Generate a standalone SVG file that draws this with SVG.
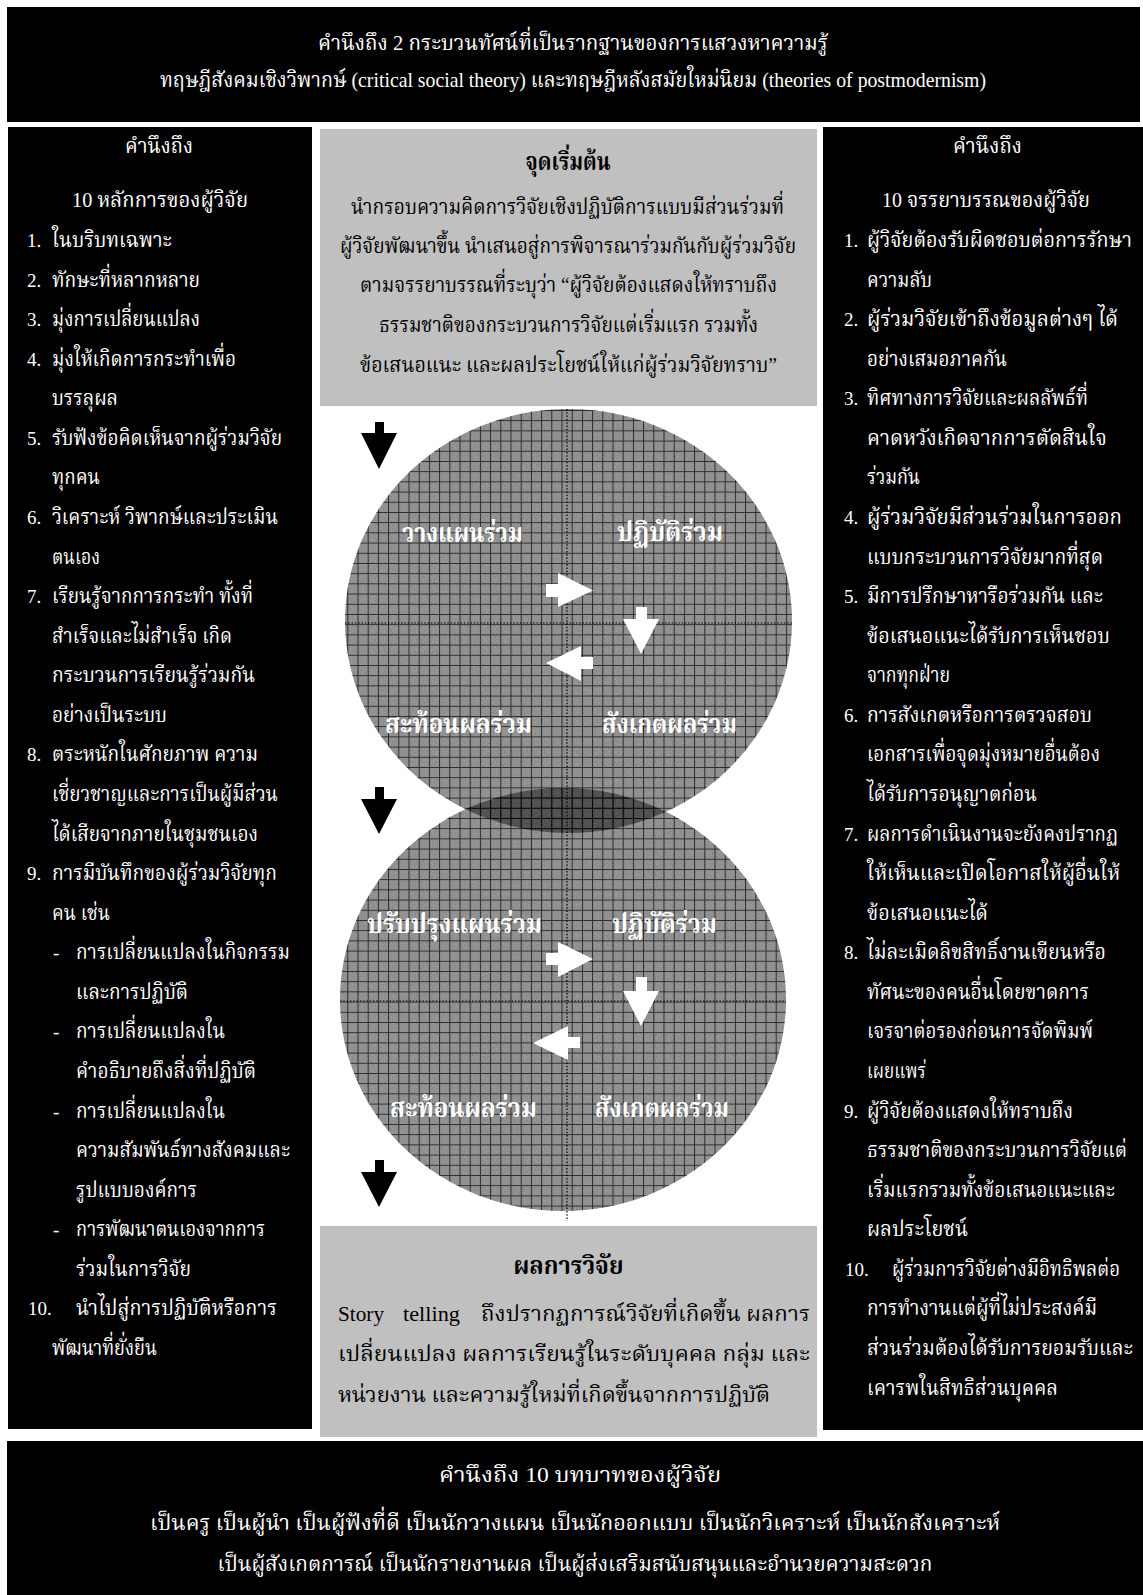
<svg xmlns="http://www.w3.org/2000/svg" width="1143" height="1595" viewBox="0 0 1143 1595">
<style>
text{font-family:"Liberation Serif","Noto Serif Thai","Noto Sans Thai",serif}
.w{fill:#fff;font-size:22px}
.k{fill:#000;font-size:22px}
.n{font-size:19px}
.c{text-anchor:middle}
.b{font-weight:bold;font-size:25px}
.lab{fill:#fff;font-size:26px;font-weight:bold}
.dot{stroke:#000;stroke-width:1.2;stroke-dasharray:1.5 1.8;fill:none}
</style>
<defs>
<pattern id="grid" width="10.2" height="10.2" patternUnits="userSpaceOnUse" x="0.5" y="2">
<path d="M0 0.5H10.2M0.5 0V10.2" stroke="#000" stroke-width="1" stroke-opacity="0.7" fill="none"/>
</pattern>
<filter id="noise" x="0" y="0" width="100%" height="100%">
<feTurbulence type="fractalNoise" baseFrequency="0.9" numOctaves="2" seed="4" result="t"/>
<feColorMatrix in="t" type="matrix" values="0 0 0 0 0  0 0 0 0 0  0 0 0 0 0  0 0 0 0.22 0" result="n"/>
<feComposite in="n" in2="SourceGraphic" operator="in"/>
</filter>
</defs>
<rect width="1143" height="1595" fill="#fff"/>

<g id="top-box">
<rect x="7" y="7" width="1133" height="115" fill="#000"/>
<text class="w c" x="573" y="50" textLength="510" lengthAdjust="spacingAndGlyphs">คำนึงถึง 2 กระบวนทัศน์ที่เป็นรากฐานของการแสวงหาความรู้</text>
<text class="w c" x="573" y="87" textLength="826" lengthAdjust="spacingAndGlyphs">ทฤษฎีสังคมเชิงวิพากษ์ (critical social theory) และทฤษฎีหลังสมัยใหม่นิยม (theories of postmodernism)</text>
</g>

<g id="left-column">
<rect x="8" y="127" width="304" height="1302" fill="#000"/>
<text class="w" x="125" y="153" textLength="68" lengthAdjust="spacingAndGlyphs">คำนึงถึง</text>
<text class="w" x="72" y="207" textLength="176" lengthAdjust="spacingAndGlyphs">10 หลักการของผู้วิจัย</text>
<g class="w n">
<text x="27" y="247">1.</text><text x="27" y="286.6">2.</text><text x="27" y="326.1">3.</text><text x="27" y="365.7">4.</text>
<text x="27" y="444.9">5.</text><text x="27" y="524">6.</text><text x="27" y="603.1">7.</text><text x="27" y="761.4">8.</text>
<text x="27" y="880.1">9.</text><text x="28" y="1315.4">10.</text>
<text x="53" y="959.3">-</text><text x="53" y="1038.4">-</text><text x="53" y="1117.5">-</text><text x="53" y="1236.3">-</text>
</g>
<g class="w">
<text x="52" y="247" textLength="120" lengthAdjust="spacingAndGlyphs">ในบริบทเฉพาะ</text>
<text x="52" y="286.6" textLength="148" lengthAdjust="spacingAndGlyphs">ทักษะที่หลากหลาย</text>
<text x="52" y="326.1" textLength="148" lengthAdjust="spacingAndGlyphs">มุ่งการเปลี่ยนแปลง</text>
<text x="52" y="365.7" textLength="184" lengthAdjust="spacingAndGlyphs">มุ่งให้เกิดการกระทำเพื่อ</text>
<text x="52" y="405.3" textLength="66" lengthAdjust="spacingAndGlyphs">บรรลุผล</text>
<text x="52" y="444.9" textLength="230" lengthAdjust="spacingAndGlyphs">รับฟังข้อคิดเห็นจากผู้ร่วมวิจัย</text>
<text x="52" y="484.4" textLength="48" lengthAdjust="spacingAndGlyphs">ทุกคน</text>
<text x="52" y="524" textLength="226" lengthAdjust="spacingAndGlyphs">วิเคราะห์ วิพากษ์และประเมิน</text>
<text x="52" y="563.6" textLength="48" lengthAdjust="spacingAndGlyphs">ตนเอง</text>
<text x="52" y="603.1" textLength="201" lengthAdjust="spacingAndGlyphs">เรียนรู้จากการกระทำ ทั้งที่</text>
<text x="52" y="642.7" textLength="180" lengthAdjust="spacingAndGlyphs">สำเร็จและไม่สำเร็จ เกิด</text>
<text x="52" y="682.3" textLength="203" lengthAdjust="spacingAndGlyphs">กระบวนการเรียนรู้ร่วมกัน</text>
<text x="52" y="721.8" textLength="115" lengthAdjust="spacingAndGlyphs">อย่างเป็นระบบ</text>
<text x="52" y="761.4" textLength="206" lengthAdjust="spacingAndGlyphs">ตระหนักในศักยภาพ ความ</text>
<text x="52" y="801" textLength="226" lengthAdjust="spacingAndGlyphs">เชี่ยวชาญและการเป็นผู้มีส่วน</text>
<text x="52" y="840.6" textLength="206" lengthAdjust="spacingAndGlyphs">ได้เสียจากภายในชุมชนเอง</text>
<text x="52" y="880.1" textLength="225" lengthAdjust="spacingAndGlyphs">การมีบันทึกของผู้ร่วมวิจัยทุก</text>
<text x="52" y="919.7" textLength="58" lengthAdjust="spacingAndGlyphs">คน เช่น</text>
<text x="76" y="959.3" textLength="214" lengthAdjust="spacingAndGlyphs">การเปลี่ยนแปลงในกิจกรรม</text>
<text x="76" y="998.8" textLength="112" lengthAdjust="spacingAndGlyphs">และการปฏิบัติ</text>
<text x="76" y="1038.4" textLength="149" lengthAdjust="spacingAndGlyphs">การเปลี่ยนแปลงใน</text>
<text x="76" y="1078" textLength="180" lengthAdjust="spacingAndGlyphs">คำอธิบายถึงสิ่งที่ปฏิบัติ</text>
<text x="76" y="1117.5" textLength="149" lengthAdjust="spacingAndGlyphs">การเปลี่ยนแปลงใน</text>
<text x="76" y="1157.1" textLength="214" lengthAdjust="spacingAndGlyphs">ความสัมพันธ์ทางสังคมและ</text>
<text x="76" y="1196.7" textLength="121" lengthAdjust="spacingAndGlyphs">รูปแบบองค์การ</text>
<text x="76" y="1236.3" textLength="189" lengthAdjust="spacingAndGlyphs">การพัฒนาตนเองจากการ</text>
<text x="76" y="1275.8" textLength="115" lengthAdjust="spacingAndGlyphs">ร่วมในการวิจัย</text>
<text x="76" y="1315.4" textLength="201" lengthAdjust="spacingAndGlyphs">นำไปสู่การปฏิบัติหรือการ</text>
<text x="52" y="1355" textLength="105" lengthAdjust="spacingAndGlyphs">พัฒนาที่ยั่งยืน</text>
</g>
</g>

<g id="start-box">
<rect x="320" y="129" width="497" height="277" fill="#c0c0c0"/>
<text class="k c b" x="568" y="170" textLength="85" lengthAdjust="spacingAndGlyphs">จุดเริ่มต้น</text>
<text class="k" x="351" y="214" textLength="433" lengthAdjust="spacingAndGlyphs">นำกรอบความคิดการวิจัยเชิงปฏิบัติการแบบมีส่วนร่วมที่</text>
<text class="k" x="340" y="253" textLength="456" lengthAdjust="spacingAndGlyphs">ผู้วิจัยพัฒนาขึ้น นำเสนอสู่การพิจารณาร่วมกันกับผู้ร่วมวิจัย</text>
<text class="k" x="360" y="292" textLength="417" lengthAdjust="spacingAndGlyphs">ตามจรรยาบรรณที่ระบุว่า “ผู้วิจัยต้องแสดงให้ทราบถึง</text>
<text class="k" x="379" y="332" textLength="379" lengthAdjust="spacingAndGlyphs">ธรรมชาติของกระบวนการวิจัยแต่เริ่มแรก รวมทั้ง</text>
<text class="k" x="360" y="372" textLength="417" lengthAdjust="spacingAndGlyphs">ข้อเสนอแนะ และผลประโยชน์ให้แก่ผู้ร่วมวิจัยทราบ”</text>
</g>

<g id="cycle-1">
<ellipse cx="568.5" cy="621" rx="223.5" ry="212" fill="#000" fill-opacity="0.36"/>
<ellipse cx="568.5" cy="621" rx="223.5" ry="212" fill="#000" filter="url(#noise)"/>
<ellipse cx="568.5" cy="621" rx="223.5" ry="212" fill="url(#grid)"/>
</g>
<g id="cycle-2">
<ellipse cx="563" cy="999.5" rx="223" ry="211.5" fill="#000" fill-opacity="0.36"/>
<ellipse cx="563" cy="999.5" rx="223" ry="211.5" fill="#000" filter="url(#noise)"/>
<ellipse cx="563" cy="999.5" rx="223" ry="211.5" fill="url(#grid)"/>
</g>
<g id="axes">
<line class="dot" x1="567" y1="409" x2="567" y2="1221"/>
<line class="dot" x1="345" y1="623" x2="792" y2="623"/>
<line class="dot" x1="340" y1="1001" x2="786" y2="1001"/>
</g>
<g id="cycle-1-labels">
<text class="lab" x="402" y="542" textLength="121" lengthAdjust="spacingAndGlyphs">วางแผนร่วม</text>
<text class="lab" x="617" y="541" textLength="106" lengthAdjust="spacingAndGlyphs">ปฏิบัติร่วม</text>
<text class="lab" x="385" y="733" textLength="147" lengthAdjust="spacingAndGlyphs">สะท้อนผลร่วม</text>
<text class="lab" x="602" y="733" textLength="135" lengthAdjust="spacingAndGlyphs">สังเกตผลร่วม</text>
</g>
<g id="cycle-2-labels">
<text class="lab" x="367" y="933" textLength="175" lengthAdjust="spacingAndGlyphs">ปรับปรุงแผนร่วม</text>
<text class="lab" x="612" y="933" textLength="105" lengthAdjust="spacingAndGlyphs">ปฏิบัติร่วม</text>
<text class="lab" x="390" y="1117" textLength="147" lengthAdjust="spacingAndGlyphs">สะท้อนผลร่วม</text>
<text class="lab" x="595" y="1117" textLength="134" lengthAdjust="spacingAndGlyphs">สังเกตผลร่วม</text>
</g>

<g id="connectors">
<g fill="#fff">
<polygon points="546,584 558,584 558,573 593,590.5 558,607 558,597 546,597"/>
<polygon points="636,607 647,607 647,619 659,619 641,654 623,619 636,619"/>
<polygon points="546,663 581,646 581,657 593,657 593,669 581,669 581,681"/>
<polygon points="546,953 558,953 558,942 593,959 558,977 558,965 546,965"/>
<polygon points="636,977 647,977 647,991 659,991 641,1026 623,991 636,991"/>
<polygon points="533,1043 568,1026 568,1037 580,1037 580,1048 568,1048 568,1060"/>
</g>
<g fill="#000">
<polygon points="375,422 384,422 384,433 397,433 379,469 361,433 375,433"/>
<polygon points="375,787 384,787 384,799 397,799 379,834 361,799 375,799"/>
<polygon points="375,1160 384,1160 384,1172 397,1172 379,1207 361,1172 375,1172"/>
</g>
</g>

<g id="result-box">
<rect x="320" y="1226" width="497" height="211" fill="#c0c0c0"/>
<text class="k c b" x="568.5" y="1274" textLength="110" lengthAdjust="spacingAndGlyphs">ผลการวิจัย</text>
<text class="k" x="338" y="1321" textLength="46" lengthAdjust="spacingAndGlyphs">Story</text>
<text class="k" x="403" y="1321" textLength="57" lengthAdjust="spacingAndGlyphs">telling</text>
<text class="k" x="481" y="1321" textLength="329" lengthAdjust="spacingAndGlyphs">ถึงปรากฏการณ์วิจัยที่เกิดขึ้น ผลการ</text>
<text class="k" x="338" y="1361" textLength="472" lengthAdjust="spacingAndGlyphs">เปลี่ยนแปลง ผลการเรียนรู้ในระดับบุคคล กลุ่ม และ</text>
<text class="k" x="338" y="1402" textLength="432" lengthAdjust="spacingAndGlyphs">หน่วยงาน และความรู้ใหม่ที่เกิดขึ้นจากการปฏิบัติ</text>
</g>

<g id="right-column">
<rect x="823" y="127" width="320" height="1303" fill="#000"/>
<text class="w" x="953" y="153" textLength="69" lengthAdjust="spacingAndGlyphs">คำนึงถึง</text>
<text class="w" x="882" y="207" textLength="208" lengthAdjust="spacingAndGlyphs">10 จรรยาบรรณของผู้วิจัย</text>
<g class="w n">
<text x="844" y="247">1.</text><text x="844" y="326.1">2.</text><text x="844" y="405.3">3.</text><text x="844" y="524">4.</text>
<text x="844" y="603.1">5.</text><text x="844" y="721.8">6.</text><text x="844" y="840.6">7.</text><text x="844" y="959.3">8.</text>
<text x="844" y="1117.5">9.</text><text x="845" y="1275.8">10.</text>
</g>
<g class="w">
<text x="867" y="247" textLength="265" lengthAdjust="spacingAndGlyphs">ผู้วิจัยต้องรับผิดชอบต่อการรักษา</text>
<text x="867" y="286.6" textLength="65" lengthAdjust="spacingAndGlyphs">ความลับ</text>
<text x="867" y="326.1" textLength="251" lengthAdjust="spacingAndGlyphs">ผู้ร่วมวิจัยเข้าถึงข้อมูลต่างๆ  ได้</text>
<text x="867" y="365.7" textLength="140" lengthAdjust="spacingAndGlyphs">อย่างเสมอภาคกัน</text>
<text x="867" y="405.3" textLength="221" lengthAdjust="spacingAndGlyphs">ทิศทางการวิจัยและผลลัพธ์ที่</text>
<text x="867" y="444.9" textLength="240" lengthAdjust="spacingAndGlyphs">คาดหวังเกิดจากการตัดสินใจ</text>
<text x="867" y="484.4" textLength="53" lengthAdjust="spacingAndGlyphs">ร่วมกัน</text>
<text x="867" y="524" textLength="255" lengthAdjust="spacingAndGlyphs">ผู้ร่วมวิจัยมีส่วนร่วมในการออก</text>
<text x="867" y="563.6" textLength="236" lengthAdjust="spacingAndGlyphs">แบบกระบวนการวิจัยมากที่สุด</text>
<text x="867" y="603.1" textLength="236" lengthAdjust="spacingAndGlyphs">มีการปรึกษาหารือร่วมกัน และ</text>
<text x="867" y="642.7" textLength="243" lengthAdjust="spacingAndGlyphs">ข้อเสนอแนะได้รับการเห็นชอบ</text>
<text x="867" y="682.3" textLength="83" lengthAdjust="spacingAndGlyphs">จากทุกฝ่าย</text>
<text x="867" y="721.8" textLength="225" lengthAdjust="spacingAndGlyphs">การสังเกตหรือการตรวจสอบ</text>
<text x="867" y="761.4" textLength="233" lengthAdjust="spacingAndGlyphs">เอกสารเพื่อจุดมุ่งหมายอื่นต้อง</text>
<text x="867" y="801" textLength="170" lengthAdjust="spacingAndGlyphs">ได้รับการอนุญาตก่อน</text>
<text x="867" y="840.6" textLength="251" lengthAdjust="spacingAndGlyphs">ผลการดำเนินงานจะยังคงปรากฏ</text>
<text x="867" y="880.1" textLength="253" lengthAdjust="spacingAndGlyphs">ให้เห็นและเปิดโอกาสให้ผู้อื่นให้</text>
<text x="867" y="919.7" textLength="121" lengthAdjust="spacingAndGlyphs">ข้อเสนอแนะได้</text>
<text x="867" y="959.3" textLength="239" lengthAdjust="spacingAndGlyphs">ไม่ละเมิดลิขสิทธิ์งานเขียนหรือ</text>
<text x="867" y="998.8" textLength="222" lengthAdjust="spacingAndGlyphs">ทัศนะของคนอื่นโดยขาดการ</text>
<text x="867" y="1038.4" textLength="226" lengthAdjust="spacingAndGlyphs">เจรจาต่อรองก่อนการจัดพิมพ์</text>
<text x="867" y="1078" textLength="59" lengthAdjust="spacingAndGlyphs">เผยแพร่</text>
<text x="867" y="1117.5" textLength="206" lengthAdjust="spacingAndGlyphs">ผู้วิจัยต้องแสดงให้ทราบถึง</text>
<text x="867" y="1157.1" textLength="260" lengthAdjust="spacingAndGlyphs">ธรรมชาติของกระบวนการวิจัยแต่</text>
<text x="867" y="1196.7" textLength="248" lengthAdjust="spacingAndGlyphs">เริ่มแรกรวมทั้งข้อเสนอแนะและ</text>
<text x="867" y="1236.3" textLength="101" lengthAdjust="spacingAndGlyphs">ผลประโยชน์</text>
<text x="892" y="1275.8" textLength="228" lengthAdjust="spacingAndGlyphs">ผู้ร่วมการวิจัยต่างมีอิทธิพลต่อ</text>
<text x="867" y="1315.4" textLength="230" lengthAdjust="spacingAndGlyphs">การทำงานแต่ผู้ที่ไม่ประสงค์มี</text>
<text x="867" y="1355" textLength="266" lengthAdjust="spacingAndGlyphs">ส่วนร่วมต้องได้รับการยอมรับและ</text>
<text x="867" y="1394.5" textLength="191" lengthAdjust="spacingAndGlyphs">เคารพในสิทธิส่วนบุคคล</text>
</g>
</g>

<g id="bottom-box">
<rect x="7" y="1441" width="1136" height="154" fill="#000"/>
<text class="w c" x="580" y="1482" textLength="282" lengthAdjust="spacingAndGlyphs">คำนึงถึง 10 บทบาทของผู้วิจัย</text>
<text class="w c" x="575" y="1530" textLength="850" lengthAdjust="spacingAndGlyphs">เป็นครู  เป็นผู้นำ  เป็นผู้ฟังที่ดี  เป็นนักวางแผน  เป็นนักออกแบบ เป็นนักวิเคราะห์  เป็นนักสังเคราะห์</text>
<text class="w c" x="575" y="1571" textLength="715" lengthAdjust="spacingAndGlyphs">เป็นผู้สังเกตการณ์ เป็นนักรายงานผล  เป็นผู้ส่งเสริมสนับสนุนและอำนวยความสะดวก</text>
</g>
</svg>
